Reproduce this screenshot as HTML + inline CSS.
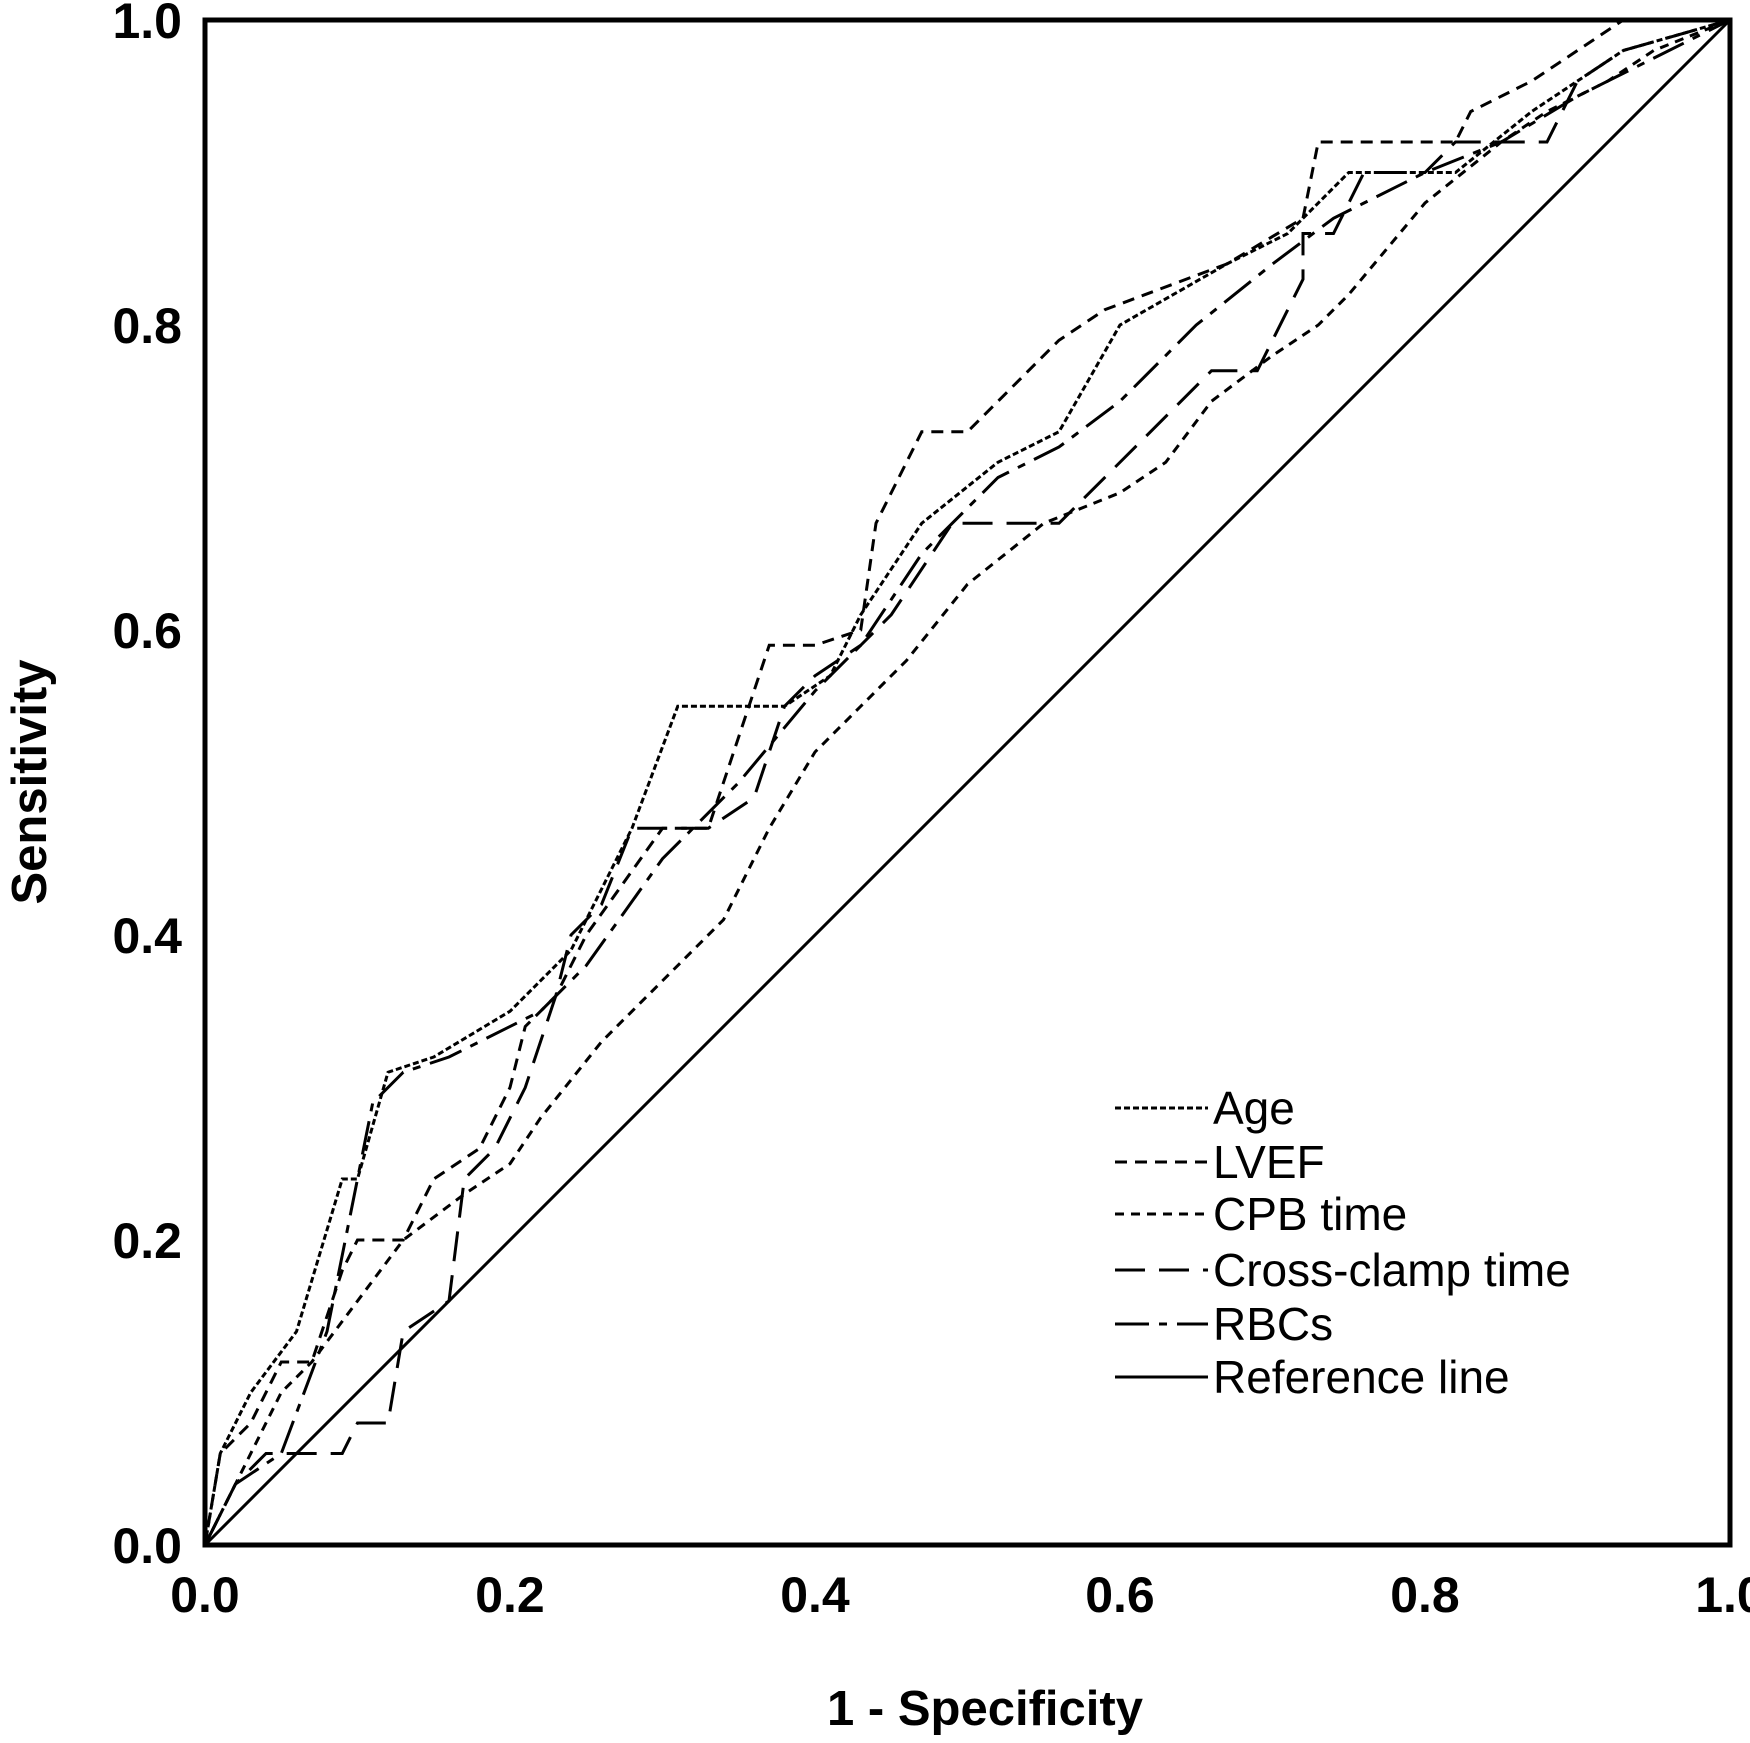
<!DOCTYPE html>
<html><head><meta charset="utf-8"><style>
html,body{margin:0;padding:0;background:#fff;}
svg{display:block;font-family:"Liberation Sans",Arial,sans-serif;}
</style></head><body>
<svg id="chart" width="1750" height="1743" viewBox="0 0 1750 1743">
<g id="series"></g>
<rect x="205" y="20" width="1525" height="1525" fill="none" stroke="#000" stroke-width="5"/>
<g id="xticks"></g>
<g id="yticks"></g>
<text x="985" y="1725" text-anchor="middle" font-size="49" font-weight="bold">1 - Specificity</text>
<text x="0" y="0" transform="translate(46,782) rotate(-90)" text-anchor="middle" font-size="49" font-weight="bold">Sensitivity</text>
<g id="legend"></g>
</svg>
<script>
const ticks=[0,0.2,0.4,0.6,0.8,1.0];
const tickLabels=["0.0","0.2","0.4","0.6","0.8","1.0"];
const seriesNames=["Age","LVEF","CPB time","Cross-clamp time","RBCs","Reference line"];
const ageX=[0,0.01,0.03,0.06,0.09,0.1,0.12,0.15,0.2,0.24,0.28,0.31,0.38,0.41,0.43,0.47,0.52,0.56,0.6,0.67,0.71,0.75,0.82,0.87,0.93,1];
const ageY=[0,0.06,0.1,0.14,0.24,0.24,0.31,0.32,0.35,0.39,0.47,0.55,0.55,0.57,0.61,0.67,0.71,0.73,0.8,0.84,0.86,0.9,0.9,0.94,0.98,1];
const lvefX=[0,0.01,0.03,0.05,0.07,0.09,0.1,0.13,0.15,0.18,0.2,0.21,0.23,0.25,0.3,0.33,0.35,0.37,0.4,0.43,0.44,0.47,0.5,0.53,0.56,0.59,0.67,0.72,0.73,0.82,0.83,0.87,0.9,0.93,1];
const lvefY=[0,0.06,0.08,0.12,0.12,0.18,0.2,0.2,0.24,0.26,0.3,0.34,0.36,0.4,0.47,0.47,0.53,0.59,0.59,0.6,0.67,0.73,0.73,0.76,0.79,0.81,0.84,0.87,0.92,0.92,0.94,0.96,0.98,1,1];
const cpbX=[0,0.02,0.05,0.07,0.1,0.13,0.17,0.2,0.22,0.26,0.3,0.34,0.37,0.4,0.43,0.46,0.5,0.55,0.6,0.63,0.66,0.7,0.73,0.75,0.8,0.85,0.88,0.92,0.95,1];
const cpbY=[0,0.04,0.1,0.12,0.16,0.2,0.23,0.25,0.28,0.33,0.37,0.41,0.47,0.52,0.55,0.58,0.63,0.67,0.69,0.71,0.75,0.78,0.8,0.82,0.88,0.92,0.94,0.96,0.98,1];
const ccX=[0,0.02,0.04,0.09,0.1,0.12,0.13,0.16,0.17,0.19,0.21,0.23,0.24,0.26,0.28,0.33,0.36,0.38,0.4,0.43,0.45,0.49,0.56,0.6,0.66,0.69,0.72,0.72,0.74,0.76,0.8,0.82,0.88,0.9,0.93,1];
const ccY=[0,0.04,0.06,0.06,0.08,0.08,0.14,0.16,0.24,0.26,0.3,0.36,0.4,0.42,0.47,0.47,0.49,0.55,0.57,0.59,0.61,0.67,0.67,0.71,0.77,0.77,0.83,0.86,0.86,0.9,0.9,0.92,0.92,0.96,0.98,1];
const rbcX=[0,0.02,0.05,0.08,0.1,0.11,0.13,0.16,0.22,0.25,0.3,0.35,0.4,0.43,0.47,0.52,0.56,0.6,0.65,0.7,0.74,0.76,0.8,0.85,0.9,1];
const rbcY=[0,0.04,0.06,0.14,0.24,0.29,0.31,0.32,0.35,0.38,0.45,0.5,0.56,0.59,0.65,0.7,0.72,0.75,0.8,0.84,0.87,0.88,0.9,0.92,0.95,1];
const refX=[0,1];
const refY=[0,1];

const NS="http://www.w3.org/2000/svg";
const L=205,T=20,W=1525,H=1525;
function sx(v){return L+v*W;}
function sy(v){return T+H-v*H;}
const dashes=["6,3","12,8","9,7","30,14","34,10,8,10","none"];
const allX=[ageX,lvefX,cpbX,ccX,rbcX,refX];
const allY=[ageY,lvefY,cpbY,ccY,rbcY,refY];
const slugs=["age-curve","lvef-curve","cpb-time-curve","cross-clamp-time-curve","rbcs-curve","reference-line"];
const g=document.getElementById('series');
for(let s=0;s<allX.length;s++){
  const p=document.createElementNS(NS,'polyline');
  p.setAttribute('points',allX[s].map((x,i)=>sx(x)+','+sy(allY[s][i])).join(' '));
  p.setAttribute('fill','none');p.setAttribute('stroke','#000');p.setAttribute('stroke-width','3');
  if(dashes[s]!=='none')p.setAttribute('stroke-dasharray',dashes[s]);
  
  
  g.appendChild(p);
}
const xt=document.getElementById('xticks'),yt=document.getElementById('yticks');
ticks.forEach((t,i)=>{
  const a=document.createElementNS(NS,'text');
  a.setAttribute('x',sx(t));a.setAttribute('y',1612);a.setAttribute('text-anchor','middle');
  a.setAttribute('font-size','50');a.setAttribute('font-weight','bold');a.textContent=tickLabels[i];
  
  
  xt.appendChild(a);
  const b=document.createElementNS(NS,'text');
  b.setAttribute('x',182);b.setAttribute('y',sy(t)+18);b.setAttribute('text-anchor','end');
  b.setAttribute('font-size','50');b.setAttribute('font-weight','bold');b.textContent=tickLabels[i];
  
  
  yt.appendChild(b);
});
const lg=document.getElementById('legend');
const ly=[1108,1162,1214,1270,1324,1377];
seriesNames.forEach((n,i)=>{
  const ln=document.createElementNS(NS,'line');
  ln.setAttribute('x1',1115);ln.setAttribute('x2',1208);ln.setAttribute('y1',ly[i]);ln.setAttribute('y2',ly[i]);
  ln.setAttribute('stroke','#000');ln.setAttribute('stroke-width','3');
  if(dashes[i]!=='none')ln.setAttribute('stroke-dasharray',dashes[i]);
  
  
  lg.appendChild(ln);
  const t=document.createElementNS(NS,'text');
  t.setAttribute('x',1213);t.setAttribute('y',ly[i]+16);t.setAttribute('font-size','46');
  t.textContent=n;
  
  
  lg.appendChild(t);
});
</script>
</body></html>
